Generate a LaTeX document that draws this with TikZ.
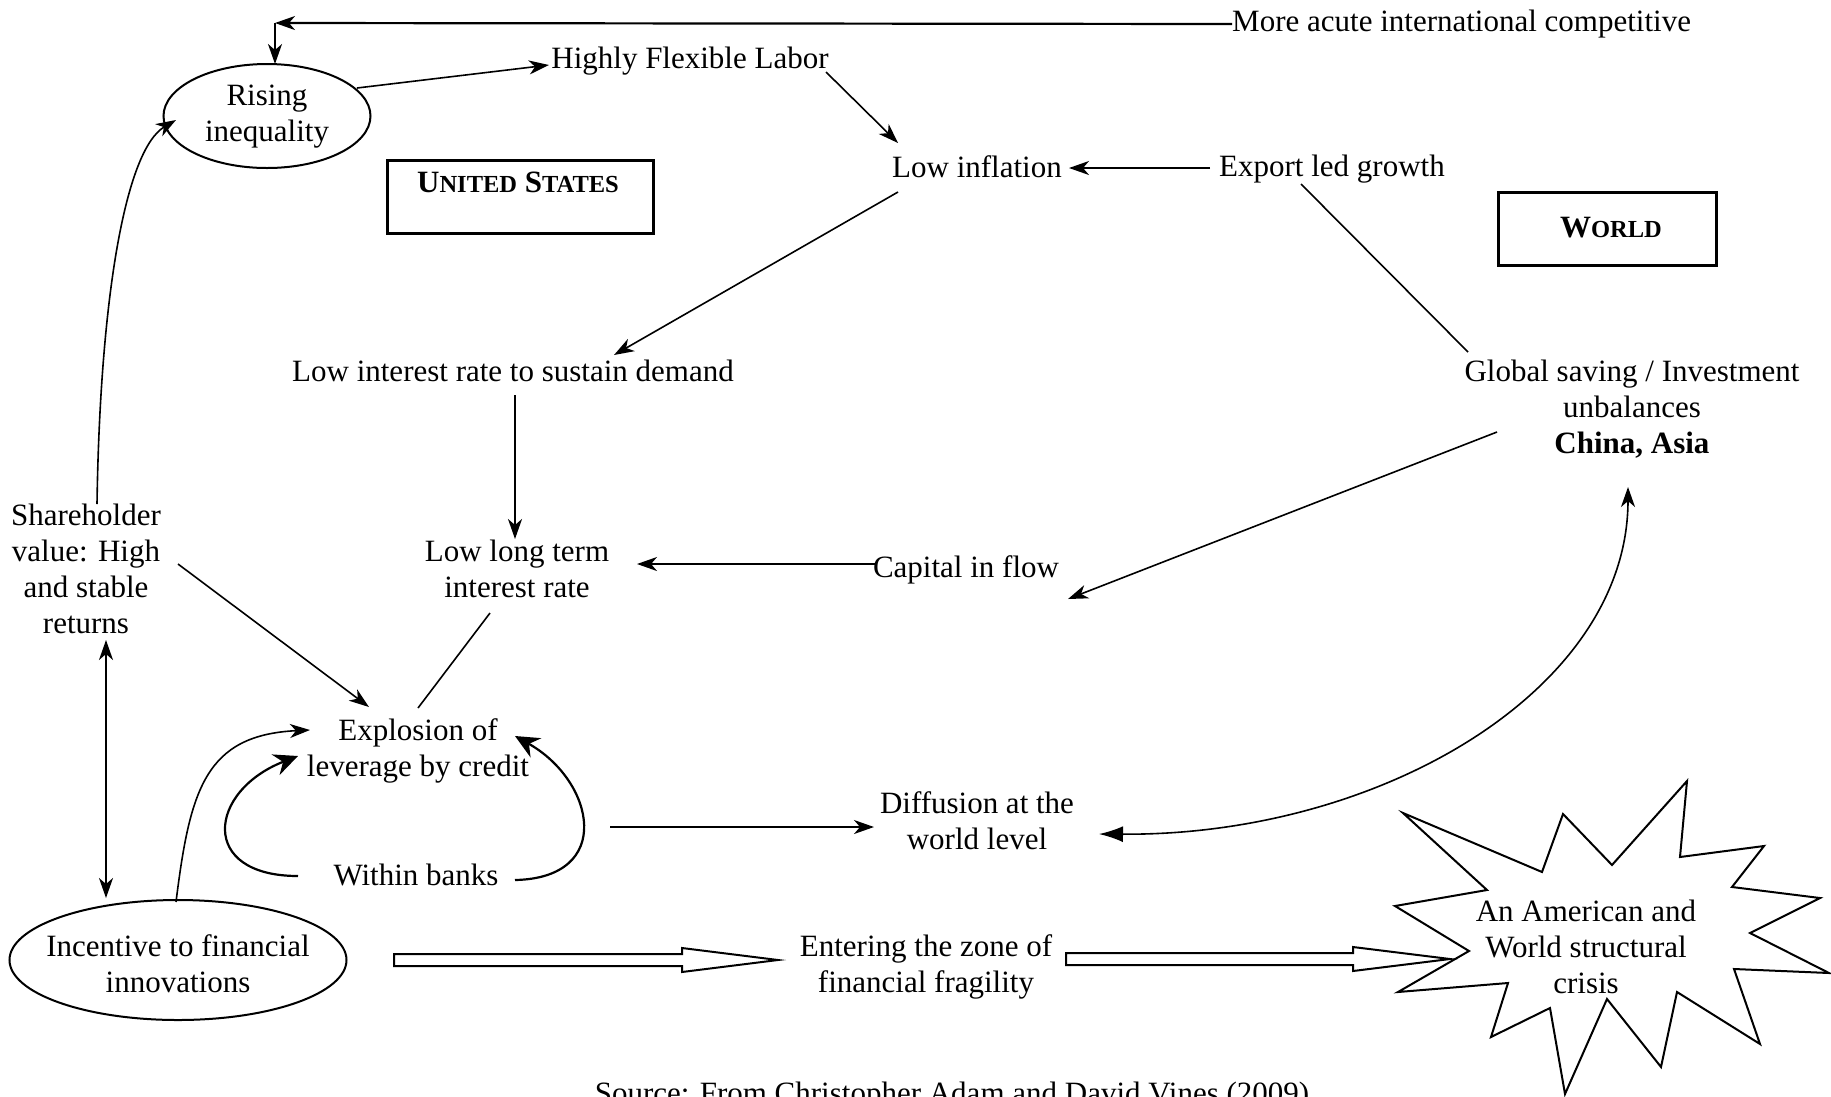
\documentclass[tikz,border=0pt]{standalone}
\usepackage{fontspec}
\setmainfont{Liberation Serif}
\usetikzlibrary{arrows.meta,calc}
\newcommand{\mysc}[1]{{\fontsize{24.5}{28}\selectfont #1}}
\begin{document}
\begin{tikzpicture}[x=1pt,y=-1pt,
  txt/.style={align=center, inner sep=0pt, font=\fontsize{31}{36}\selectfont},
  conn/.style={line width=1.6pt},
  arr/.style={conn, -{Stealth[length=20pt,width=14pt,inset=6pt]}},
  dblarr/.style={conn, {Stealth[length=20pt,width=14pt,inset=6pt]}-{Stealth[length=20pt,width=14pt,inset=6pt]}},
  bigarr/.style={line width=2.2pt, -{Stealth[length=24pt,width=22pt,inset=8pt]}},
  hollow/.style={line width=2pt, fill=white, line join=miter},
  titlebox/.style={draw, line width=3pt, inner sep=0pt},
  shape line/.style={line width=2pt},
]
\useasboundingbox (0,0) rectangle (1831,1096);
\fill[white] (0,0) rectangle (1831,1096);

% ---------- nodes ----------
\node[txt, anchor=west] (comp) at (1232,24) {More acute international competitive};
\coordinate (corner) at (275,23);
\node[txt] (rising) at (267,117) {Rising\\inequality};
\draw[shape line] ($(rising)+(0,-1)$) ellipse [x radius=103.5pt, y radius=52pt];
\node[txt] (hfl) at (690,61) {Highly Flexible Labor};
\node[txt] (lowinf) at (977,167) {Low inflation};
\node[txt] (export) at (1332,169) {Export led growth};
\node[titlebox, minimum width=266pt, minimum height=73pt] (usbox) at (520,196.5) {};
\node[txt, font=\fontsize{31}{36}\selectfont\bfseries] (ustitle) at (518,182) {U\mysc{NITED} S\mysc{TATES}};
\node[titlebox, minimum width=218pt, minimum height=73pt] (worldbox) at (1607,228.5) {};
\node[txt, font=\fontsize{31}{36}\selectfont\bfseries] (worldtitle) at (1611,228) {W\mysc{ORLD}};
\node[txt] (lowint) at (513,371) {Low interest rate to sustain demand};
\node[txt] (global) at (1632,409) {Global saving / Investment\\unbalances\\\textbf{China, Asia}};
\node[txt] (lowlong) at (517,569) {Low long term\\interest rate};
\node[txt] (capital) at (966,570) {Capital in flow};
\node[txt] (share) at (86,569) {Shareholder\\value: High\\and stable\\returns};
\node[txt] (explosion) at (418,751) {Explosion of\\leverage by credit};
\node[txt] (within) at (416,875) {Within banks};
\node[txt] (diffusion) at (977,821) {Diffusion at the\\world level};
\node[txt] (incentive) at (178,964) {Incentive to financial\\innovations};
\draw[shape line] ($(incentive)+(0,-4)$) ellipse [x radius=168.5pt, y radius=60pt];
\node[txt] (entering) at (926,967) {Entering the zone of\\financial fragility};

% star
\draw[shape line, line join=miter, fill=white] (1403,813) -- (1542,872) -- (1563,814) -- (1612,865) -- (1687,781) -- (1680,857) -- (1764,846) -- (1732,887) -- (1820,898) -- (1750,933) -- (1829,973) -- (1734,969) -- (1760,1044) -- (1677,992) -- (1661,1067) -- (1607,999) -- (1565,1094) -- (1550,1008) -- (1491,1037) -- (1508,983) -- (1398,992) -- (1469,951) -- (1395,906) -- (1487,890) -- cycle;
\node[txt] (crisis) at (1586,947) {An American and\\World structural\\crisis};
\node[txt, anchor=base] (source) at (952,1103) {Source: From Christopher Adam and David Vines (2009)};

% ---------- connectors ----------
\draw[arr, line width=2.2pt] (comp.west) -- (corner);
\draw[arr] (corner) -- ($(rising)+(8,-53)$);
\draw[arr] ($(rising)+(90,-29)$) -- ($(hfl)+(-141,4)$);
\draw[arr] ($(hfl)+(136,11)$) -- ($(lowinf)+(-79,-24)$);
\draw[arr] ($(export)+(-122,-1)$) -- ($(lowinf)+(92,1)$);
\draw[conn] ($(export)+(-31,15)$) -- ($(global)+(-164,-57)$);
\draw[arr] ($(lowinf)+(-79,25)$) -- ($(lowint)+(101,-16)$);
\draw[arr] ($(lowint)+(2,24)$) -- ($(lowlong)+(-2,-30)$);
\draw[arr] ($(global)+(-135,23)$) -- ($(capital)+(102,29)$);
\draw[arr] ($(capital)+(-89,-6)$) -- ($(lowlong)+(120,-5)$);
\draw[arr] ($(share)+(92,-5)$) -- ($(explosion)+(-49,-44)$);
\draw[conn] ($(lowlong)+(-27,44)$) -- ($(explosion)+(0,-43)$);
\draw[arr] ($(share)+(11,-65)$) .. controls +(3,-204) and +(-51,30) .. ($(rising)+(-91,3)$);
\draw[dblarr] ($(share)+(20,71)$) -- ($(incentive)+(-72,-66)$);
\draw[arr] ($(incentive)+(-2,-62)$) .. controls +(14,-112) and +(-105,5) .. ($(explosion)+(-108,-21)$);
\draw[bigarr] ($(within)+(-118,1)$) .. controls +(-100,0) and +(-90,35) .. ($(explosion)+(-120,5)$);
\draw[bigarr] ($(within)+(99,5)$) .. controls +(100,-2) and +(80,45) .. ($(explosion)+(97,-15)$);
\draw[arr] ($(explosion)+(192,76)$) -- ($(diffusion)+(-103,6)$);
\draw[conn, {Latex[length=24pt,width=16pt]}-{Stealth[length=20pt,width=14pt,inset=6pt]}] ($(diffusion)+(122,13)$) .. controls +(281,2) and +(0,203) .. ($(global)+(-4,78)$);

% hollow arrows
\draw[hollow] ($(incentive)+(216,-10)$) -- ($(incentive)+(504,-10)$) -- ($(incentive)+(504,-16)$) -- ($(entering)+(-148,-7)$) -- ($(incentive)+(504,8)$) -- ($(incentive)+(504,2)$) -- ($(incentive)+(216,2)$) -- cycle;
\draw[hollow] ($(entering)+(140,-14)$) -- ($(entering)+(427,-14)$) -- ($(entering)+(427,-20)$) -- ($(crisis)+(-136,12)$) -- ($(entering)+(427,4)$) -- ($(entering)+(427,-2)$) -- ($(entering)+(140,-2)$) -- cycle;
\end{tikzpicture}
\end{document}
